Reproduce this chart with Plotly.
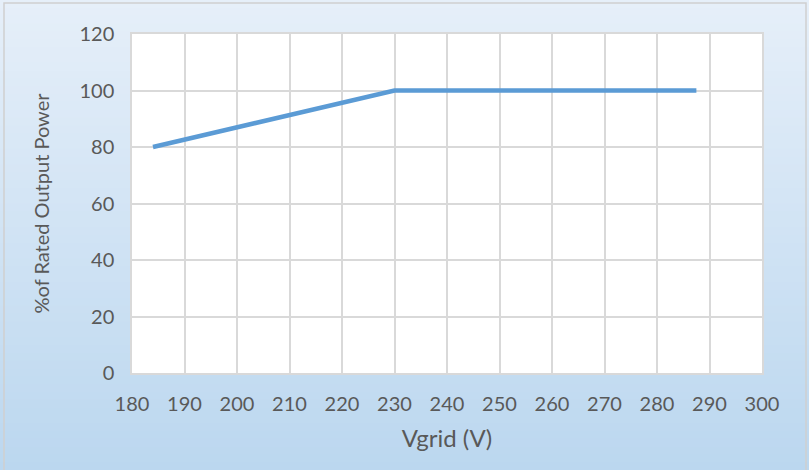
import plotly.graph_objects as go

# data
vgrid = [184, 230, 287.5]
power_pct = [80, 100, 100]
x_ticks = list(range(180, 301, 10))
y_ticks = list(range(0, 121, 20))

W, H = 809, 470
L, R, T, B = 132, 47, 34, 97
pw, ph = W - L - R, H - T - B


def px_x(p):  # pixel -> paper x
    return (p - L) / pw


def px_y(p):  # pixel -> paper y
    return (H - B - p) / ph


def mix(c1, c2, t):
    return '#%02x%02x%02x' % tuple(round(a + (b - a) * t) for a, b in zip(c1, c2))


top_col = (0xe6, 0xef, 0xf9)
bot_col = (0xbb, 0xd7, 0xef)

shapes = []
n = 60
for i in range(n):
    y0 = H * i / n
    y1 = H * (i + 1) / n + 1
    shapes.append(dict(type='rect', xref='paper', yref='paper', layer='below',
                       x0=px_x(-2), x1=px_x(W + 2), y0=px_y(y0), y1=px_y(y1),
                       fillcolor=mix(top_col, bot_col, (i + 0.5) / n), line_width=0))
# outer border
shapes.append(dict(type='rect', xref='paper', yref='paper', layer='below',
                   x0=px_x(4), x1=px_x(806), y0=px_y(3), y1=px_y(H + 10),
                   fillcolor='rgba(0,0,0,0)', line=dict(color='#d0d0d0', width=1.5)))
# white plot area
shapes.append(dict(type='rect', xref='x', yref='y', layer='below',
                   x0=180, x1=300, y0=0, y1=120, fillcolor='white', line_width=0))

fig = go.Figure(go.Scatter(x=vgrid, y=power_pct, mode='lines',
                           line=dict(color='#5b9bd5', width=4.5), showlegend=False))

font = dict(family='Lato, Open Sans, sans-serif', color='#595959')
fig.update_layout(
    width=W, height=H,
    margin=dict(l=L, r=R, t=T, b=B),
    paper_bgcolor='#d3e4f4', plot_bgcolor='rgba(0,0,0,0)',
    shapes=shapes, font=font,
)
fig.update_xaxes(range=[180, 300], tickvals=x_ticks, showgrid=True, gridcolor='#d9d9d9', gridwidth=1.5,
                 showline=True, linecolor='#d9d9d9', linewidth=1.5, mirror=True, zeroline=False,
                 ticks='', ticklabelstandoff=12, tickfont=dict(size=20),
                 title=dict(text='Vgrid (V)', font=dict(size=24), standoff=16))
fig.update_yaxes(range=[0, 120], tickvals=y_ticks, showgrid=True, gridcolor='#d9d9d9', gridwidth=1.5,
                 showline=True, linecolor='#d9d9d9', linewidth=1.5, mirror=True, zeroline=False,
                 ticks='', ticklabelstandoff=12, tickfont=dict(size=20),
                 title=dict(text='%of Rated Output Power', font=dict(size=20), standoff=24))

fig.write_html("out.html", config={'displayModeBar': False},
               post_script="document.body.style.margin='0';")
